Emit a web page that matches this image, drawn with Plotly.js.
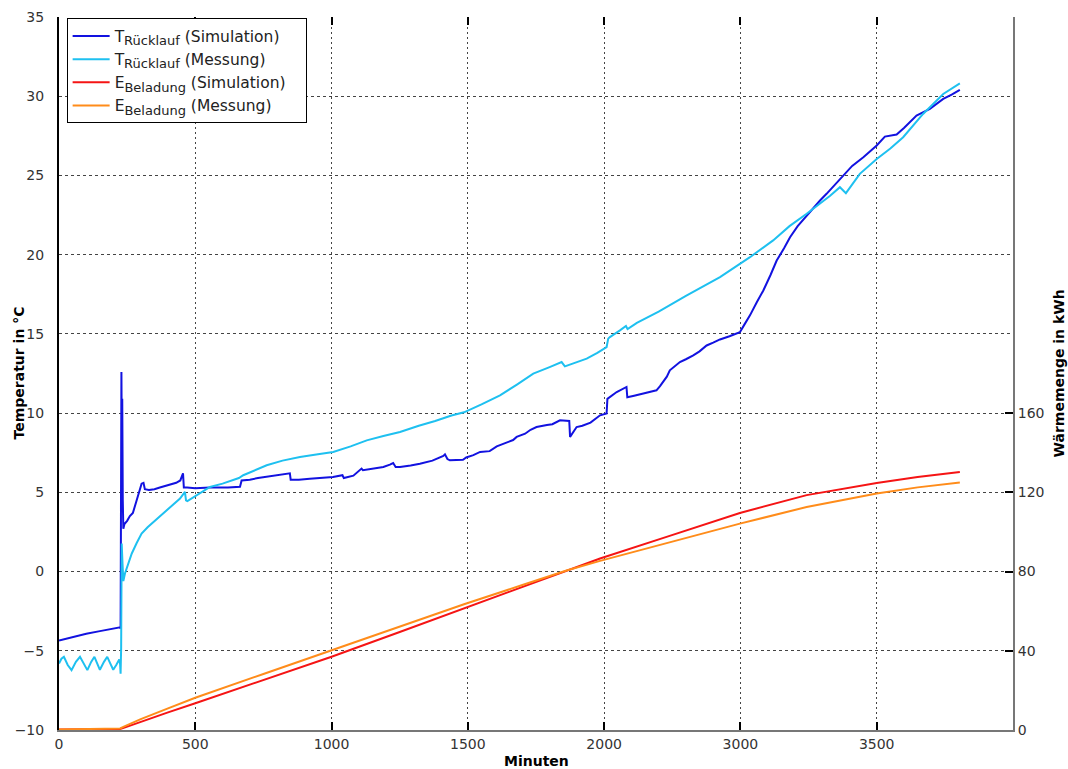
<!DOCTYPE html>
<html>
<head>
<meta charset="utf-8">
<script src="https://cdn.plot.ly/plotly-3.0.1.min.js"></script>
<style>html,body{margin:0;padding:0;background:#fff;}#chart{width:1068px;height:769px;}</style>
</head>
<body>
<div id="chart"></div>
<script>
// x values are positions on the drawn (linear) axis in "Minuten"
var tSimX = [0,50,100,150,200,224,226,229,231,232,234,236,240,250,260,271,285,298,303,310,315,330,350,370,390,410,430,445,455,458,470,500,554,620,664,670,700,730,762,800,847,850,880,920,960,1005,1040,1045,1080,1110,1115,1150,1190,1214,1226,1235,1251,1290,1324,1370,1410,1416,1425,1434,1460,1482,1494,1520,1545,1580,1606,1640,1666,1679,1710,1730,1752,1790,1810,1838,1872,1875,1899,1920,1950,1985,2009,2012,2030,2046,2082,2085,2110,2143,2192,2205,2217,2230,2241,2278,2300,2327,2350,2376,2400,2425,2460,2498,2515,2535,2560,2584,2610,2633,2660,2682,2710,2743,2770,2792,2816,2840,2859,2877,2910,2951,2975,3000,3030,3050,3073,3100,3146,3195,3220,3244,3275,3305];
var tSimY = [-4.35,-4.12,-3.92,-3.76,-3.62,-3.52,-3.6,12.6,6.0,10.9,4.5,2.7,3.0,3.2,3.5,3.7,4.5,5.3,5.55,5.6,5.2,5.15,5.2,5.3,5.4,5.5,5.6,5.75,6.2,5.3,5.3,5.25,5.3,5.3,5.35,5.75,5.8,5.9,5.97,6.05,6.2,5.8,5.8,5.85,5.9,5.97,6.08,5.9,6.05,6.5,6.4,6.5,6.6,6.75,6.85,6.6,6.6,6.7,6.8,7.0,7.3,7.4,7.1,7.02,7.05,7.05,7.2,7.35,7.55,7.6,7.9,8.1,8.3,8.5,8.7,8.95,9.12,9.25,9.3,9.55,9.5,8.5,9.12,9.2,9.4,9.86,9.97,10.9,11.1,11.33,11.65,11.0,11.1,11.23,11.44,11.7,11.96,12.3,12.7,13.22,13.4,13.64,13.9,14.27,14.45,14.65,14.85,15.11,15.6,16.17,17.0,17.74,18.7,19.63,20.4,21.1,21.8,22.47,23.0,23.42,23.84,24.3,24.68,24.99,25.6,26.15,26.5,26.89,27.45,27.5,27.58,28.0,28.78,29.2,29.5,29.83,30.1,30.4];

var tMessX = [0,9,18,32,46,62,77,90,104,118,130,140,150,165,177,188,199,210,221,224,226,228,230,233,236,242,255,267,285,303,325,346,370,395,420,444,462,466,471,490,505,530,554,600,639,660,676,720,762,820,884,950,1006,1070,1129,1190,1251,1320,1380,1440,1486,1550,1618,1680,1740,1800,1844,1856,1900,1936,1975,2009,2015,2021,2058,2080,2086,2120,2200,2300,2425,2535,2620,2680,2743,2800,2828,2865,2887,2938,3000,3050,3097,3170,3244,3305];
var tMessY = [-5.8,-5.5,-5.38,-5.9,-6.22,-5.7,-5.38,-5.8,-6.22,-5.7,-5.38,-5.8,-6.2,-5.7,-5.38,-5.8,-6.2,-5.9,-5.55,-5.8,-6.45,-4.8,1.77,0.5,-0.6,-0.12,0.6,1.14,1.8,2.4,2.8,3.13,3.5,3.87,4.25,4.61,5.03,4.5,4.45,4.65,4.82,5.1,5.34,5.55,5.76,5.9,6.08,6.4,6.71,7.0,7.23,7.4,7.55,7.9,8.28,8.55,8.81,9.2,9.5,9.85,10.05,10.55,11.12,11.8,12.49,12.9,13.22,12.95,13.2,13.44,13.8,14.17,14.7,14.8,15.22,15.5,15.3,15.7,16.4,17.4,18.58,19.84,20.9,21.8,22.58,23.3,23.7,24.26,23.88,25.1,26.04,26.7,27.41,28.88,30.14,30.81];

var eSimX = [0,100,224,240,300,400,500,750,1000,1250,1486,1700,1862,1985,2229,2498,2743,3000,3150,3305];
var eSimY = [0.3,0.3,0.5,1.2,4.2,8.9,13.5,25.2,37.0,49.5,61.5,72.2,80.7,86.6,97.5,109.6,118.6,124.7,127.8,130.3];

var eMessX = [0,100,224,240,300,400,500,750,1000,1250,1486,1700,1862,1985,2229,2498,2743,3000,3150,3305];
var eMessY = [0.2,0.5,0.8,1.8,5.5,10.9,16.3,28.3,40.3,52.0,63.5,73.2,80.5,85.4,94.2,104.2,112.6,119.4,122.5,125.0];

var xTickVals = [0,500,1000,1500,2000,2500,3000];
var xTickText = ['0','500','1000','1500','2000','3000','3500'];
var yTickVals = [-10,-5,0,5,10,15,20,25,30,35];
var y2TickVals = [0,40,80,120,160];

function sub(s){ return '<sub><span style="font-size:13px">' + s + '</span></sub>'; }
var pad = '&nbsp;&nbsp;&nbsp;';
var names = ['T' + sub('Rücklauf') + ' (Simulation)' + pad,'T' + sub('Rücklauf') + ' (Messung)' + pad,'E' + sub('Beladung') + ' (Simulation)' + pad,'E' + sub('Beladung') + ' (Messung)' + pad];
var colors = ['#1212e0','#1ec0f0','#f51414','#ff8c1a'];

var traces = [
  {x:tSimX, y:tSimY, name:names[0], type:'scatter', mode:'lines', line:{color:colors[0], width:2}},
  {x:tMessX, y:tMessY, name:names[1], type:'scatter', mode:'lines', line:{color:colors[1], width:2}},
  {x:eSimX, y:eSimY, name:names[2], type:'scatter', mode:'lines', xaxis:'x2', yaxis:'y2', line:{color:colors[2], width:2}},
  {x:eMessX, y:eMessY, name:names[3], type:'scatter', mode:'lines', xaxis:'x2', yaxis:'y2', line:{color:colors[3], width:2}}
];

var FONT = 'DejaVu Sans, Verdana, sans-serif';
var layout = {
  width:1068, height:769,
  margin:{l:59, r:55, t:17, b:39},
  paper_bgcolor:'#fff', plot_bgcolor:'#fff',
  font:{family:FONT, size:14, color:'#333'},
  showlegend:true,
  legend:{x:0.008, y:0.998, xanchor:'left', yanchor:'top', bgcolor:'#fff', bordercolor:'#000', borderwidth:1,
          font:{family:FONT, size:15.5, color:'#222'}, tracegroupgap:0, itemwidth:37},
  xaxis:{range:[0,3500], tickvals:xTickVals, ticktext:xTickText, ticks:'inside', ticklen:8, tickwidth:2, tickcolor:'#000',
         showline:true, linecolor:'#777', linewidth:2, showgrid:true, gridcolor:'#444', gridwidth:1, griddash:'2px,3px',
         zeroline:false, tickfont:{family:FONT, size:14, color:'#333'}},
  xaxis2:{range:[0,3500], overlaying:'x', side:'top', tickvals:xTickVals, showticklabels:false, ticks:'inside', ticklen:8, tickwidth:2, tickcolor:'#000',
          showline:false, showgrid:false, zeroline:false},
  yaxis:{range:[-10,35], tickvals:yTickVals, ticks:'', showline:true, linecolor:'#000', linewidth:2,
         showgrid:true, gridcolor:'#444', gridwidth:1, griddash:'3px,3px', zeroline:false, ticklabelstandoff:10,
         tickfont:{family:FONT, size:14, color:'#333'}},
  yaxis2:{range:[0,360], overlaying:'y', side:'right', tickvals:y2TickVals, ticks:'inside', ticklen:8, tickwidth:2, tickcolor:'#000',
          showline:true, linecolor:'#777', linewidth:2, showgrid:false, zeroline:false,
          tickfont:{family:FONT, size:14, color:'#333'}},
  yaxis3:{range:[-10,35], overlaying:'y', side:'right', anchor:'x', tickvals:yTickVals, showticklabels:false, ticks:'inside', ticklen:8, tickwidth:2, tickcolor:'#000',
          showline:false, showgrid:false, zeroline:false},
  annotations:[
    {text:'<b>Temperatur in °C</b>', xref:'paper', yref:'paper', x:0, y:0.5, xanchor:'center', yanchor:'middle', xshift:-41, textangle:-90, showarrow:false, font:{family:FONT, size:14, color:'#000'}},
    {text:'<b>Wärmemenge in kWh</b>', xref:'paper', yref:'paper', x:1, y:0.5, xanchor:'center', yanchor:'middle', xshift:45, textangle:-90, showarrow:false, font:{family:FONT, size:14, color:'#000'}},
    {text:'<b>Minuten</b>', xref:'paper', yref:'paper', x:0.5, y:0, xanchor:'center', yanchor:'middle', yshift:-31, showarrow:false, font:{family:FONT, size:14, color:'#000'}}
  ]
};

Plotly.newPlot('chart', traces, layout, {staticPlot:true, displayModeBar:false});
</script>
</body>
</html>
